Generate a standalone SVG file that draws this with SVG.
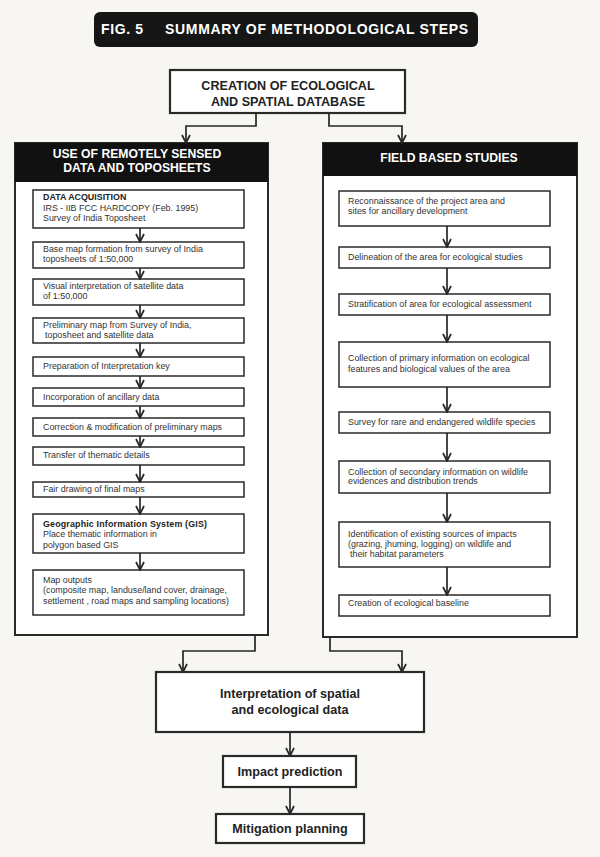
<svg xmlns="http://www.w3.org/2000/svg" width="600" height="857" viewBox="0 0 600 857">
<defs>
<marker id="arr" viewBox="0 0 10 10" refX="9" refY="5" markerWidth="10" markerHeight="10" markerUnits="userSpaceOnUse" orient="auto">
<path d="M1,1 L9,5 L1,9" fill="none" stroke="#262626" stroke-width="1.7"/>
</marker>
<style>
.bg{fill:#f7f6f2}
.box{fill:#ffffff;stroke:#2a2a2a;stroke-width:1.5}
.panel{fill:#ffffff;stroke:#2a2a2a;stroke-width:2}
.main{fill:#ffffff;stroke:#2a2a2a;stroke-width:2.2}
.hdr{fill:#111111}
.t{font-family:"Liberation Sans",Arial,sans-serif;font-size:8.9px;fill:#333333}
.tb{font-family:"Liberation Sans",Arial,sans-serif;font-size:8.9px;fill:#222222;font-weight:bold}
.ht{font-family:"Liberation Sans",Arial,sans-serif;font-size:12.2px;fill:#ffffff;font-weight:bold;text-anchor:middle}
.mt{font-family:"Liberation Sans",Arial,sans-serif;font-size:12.6px;fill:#222222;font-weight:bold;text-anchor:middle}
.ttl{font-family:"Liberation Sans",Arial,sans-serif;font-size:14px;fill:#ffffff;font-weight:bold}
.c{fill:none;stroke:#262626;stroke-width:1.7}
</style>
</defs>
<rect class="bg" x="0" y="0" width="600" height="857"/>

<g id="title">
<rect x="94" y="12" width="384" height="35" rx="6" fill="#161616"/>
<text class="ttl" x="101" y="34" textLength="42">FIG. 5</text>
<text class="ttl" x="165" y="34" textLength="303">SUMMARY OF METHODOLOGICAL STEPS</text>
</g>

<g id="creation">
<rect class="main" x="170" y="70" width="235" height="43"/>
<text class="mt" x="288" y="90">CREATION OF ECOLOGICAL</text>
<text class="mt" x="288" y="106">AND SPATIAL DATABASE</text>
</g>

<g id="leftPanel">
<rect class="panel" x="15" y="143" width="253" height="492"/>
<rect class="hdr" x="15" y="143" width="253" height="39"/>
<text class="ht" x="137" y="158">USE OF REMOTELY SENSED</text>
<text class="ht" x="137" y="172">DATA AND TOPOSHEETS</text>
</g>

<g id="rightPanel">
<rect class="panel" x="323" y="143" width="254" height="494"/>
<rect class="hdr" x="323" y="143" width="254" height="33"/>
<text class="ht" x="449" y="162">FIELD BASED STUDIES</text>
</g>

<g id="L1"><rect class="box" x="33" y="190" width="211" height="38"/>
<text class="tb" x="43" y="200">DATA ACQUISITION</text>
<text class="t" x="43" y="211">IRS - IIB FCC HARDCOPY (Feb. 1995)</text>
<text class="t" x="43" y="221">Survey of India Toposheet</text></g>
<g id="L2"><rect class="box" x="33" y="242" width="211" height="26"/>
<text class="t" x="43" y="252">Base map formation from survey of India</text>
<text class="t" x="43" y="262">toposheets of 1:50,000</text></g>
<g id="L3"><rect class="box" x="33" y="279" width="211" height="26"/>
<text class="t" x="43" y="289">Visual interpretation of satellite data</text>
<text class="t" x="43" y="299">of 1:50,000</text></g>
<g id="L4"><rect class="box" x="33" y="318" width="211" height="25"/>
<text class="t" x="43" y="328">Preliminary map from Survey of India,</text>
<text class="t" x="45" y="338">toposheet and satellite data</text></g>
<g id="L5"><rect class="box" x="33" y="357" width="211" height="19"/>
<text class="t" x="43" y="369">Preparation of Interpretation key</text></g>
<g id="L6"><rect class="box" x="33" y="388" width="211" height="18"/>
<text class="t" x="43" y="400">Incorporation of ancillary data</text></g>
<g id="L7"><rect class="box" x="33" y="418" width="211" height="18"/>
<text class="t" x="43" y="430">Correction &amp; modification of preliminary maps</text></g>
<g id="L8"><rect class="box" x="33" y="447" width="211" height="18"/>
<text class="t" x="43" y="458">Transfer of thematic details</text></g>
<g id="L9"><rect class="box" x="33" y="482" width="211" height="15"/>
<text class="t" x="43" y="492">Fair drawing of final maps</text></g>
<g id="L10"><rect class="box" x="33" y="514" width="211" height="39"/>
<text class="tb" x="43" y="527" textLength="164">Geographic Information System (GIS)</text>
<text class="t" x="43" y="537">Place thematic information in</text>
<text class="t" x="43" y="548">polygon based GIS</text></g>
<g id="L11"><rect class="box" x="33" y="570" width="211" height="45"/>
<text class="t" x="43" y="583">Map outputs</text>
<text class="t" x="43" y="593">(composite map, landuse/land cover, drainage,</text>
<text class="t" x="43" y="604">settlement , road maps and sampling locations)</text></g>

<g id="R1"><rect class="box" x="339" y="191" width="211" height="35"/>
<text class="t" x="348" y="204">Reconnaissance of the project area and</text>
<text class="t" x="348" y="214">sites for ancillary development</text></g>
<g id="R2"><rect class="box" x="339" y="247" width="211" height="21"/>
<text class="t" x="348" y="260">Delineation of the area for ecological studies</text></g>
<g id="R3"><rect class="box" x="339" y="294" width="211" height="21"/>
<text class="t" x="348" y="307">Stratification of area for ecological assessment</text></g>
<g id="R4"><rect class="box" x="339" y="342" width="211" height="45"/>
<text class="t" x="348" y="361">Collection of primary information on ecological</text>
<text class="t" x="348" y="372">features and biological values of the area</text></g>
<g id="R5"><rect class="box" x="339" y="412" width="211" height="21"/>
<text class="t" x="348" y="425">Survey for rare and endangered wildlife species</text></g>
<g id="R6"><rect class="box" x="339" y="461" width="211" height="32"/>
<text class="t" x="348" y="475">Collection of secondary information on wildlife</text>
<text class="t" x="348" y="484">evidences and distribution trends</text></g>
<g id="R7"><rect class="box" x="339" y="522" width="211" height="45"/>
<text class="t" x="348" y="537">Identification of existing sources of  impacts</text>
<text class="t" x="348" y="547">(grazing,  jhuming, logging) on wildlife and</text>
<text class="t" x="350" y="557">their habitat parameters</text></g>
<g id="R8"><rect class="box" x="339" y="595" width="211" height="21"/>
<text class="t" x="348" y="606">Creation of ecological baseline</text></g>

<g id="interp">
<rect class="main" x="156" y="672" width="268" height="60"/>
<text class="mt" x="290" y="698">Interpretation of spatial</text>
<text class="mt" x="290" y="714">and ecological data</text>
</g>
<g id="impact">
<rect class="main" x="223" y="756" width="133" height="31"/>
<text class="mt" x="290" y="776">Impact prediction</text>
</g>
<g id="mitigation">
<rect class="main" x="216" y="814" width="148" height="29"/>
<text class="mt" x="290" y="833">Mitigation planning</text>
</g>

<g id="connectors">
<path class="c" d="M256,113 V126 H186 V143" marker-end="url(#arr)"/>
<path class="c" d="M329,113 V126 H402 V143" marker-end="url(#arr)"/>
<path class="c" d="M140,228 V242" marker-end="url(#arr)"/>
<path class="c" d="M140,268 V279" marker-end="url(#arr)"/>
<path class="c" d="M140,305 V318" marker-end="url(#arr)"/>
<path class="c" d="M140,343 V357" marker-end="url(#arr)"/>
<path class="c" d="M140,376 V388" marker-end="url(#arr)"/>
<path class="c" d="M140,406 V418" marker-end="url(#arr)"/>
<path class="c" d="M140,436 V447" marker-end="url(#arr)"/>
<path class="c" d="M140,465 V482" marker-end="url(#arr)"/>
<path class="c" d="M140,497 V514" marker-end="url(#arr)"/>
<path class="c" d="M140,553 V570" marker-end="url(#arr)"/>
<path class="c" d="M447,226 V247" marker-end="url(#arr)"/>
<path class="c" d="M447,268 V294" marker-end="url(#arr)"/>
<path class="c" d="M447,315 V342" marker-end="url(#arr)"/>
<path class="c" d="M447,387 V412" marker-end="url(#arr)"/>
<path class="c" d="M447,433 V461" marker-end="url(#arr)"/>
<path class="c" d="M447,493 V522" marker-end="url(#arr)"/>
<path class="c" d="M447,567 V595" marker-end="url(#arr)"/>
<path class="c" d="M255,635 V651 H183 V672" marker-end="url(#arr)"/>
<path class="c" d="M330,637 V651 H402 V672" marker-end="url(#arr)"/>
<path class="c" d="M290,732 V756" marker-end="url(#arr)"/>
<path class="c" d="M290,787 V814" marker-end="url(#arr)"/>
</g>
</svg>
